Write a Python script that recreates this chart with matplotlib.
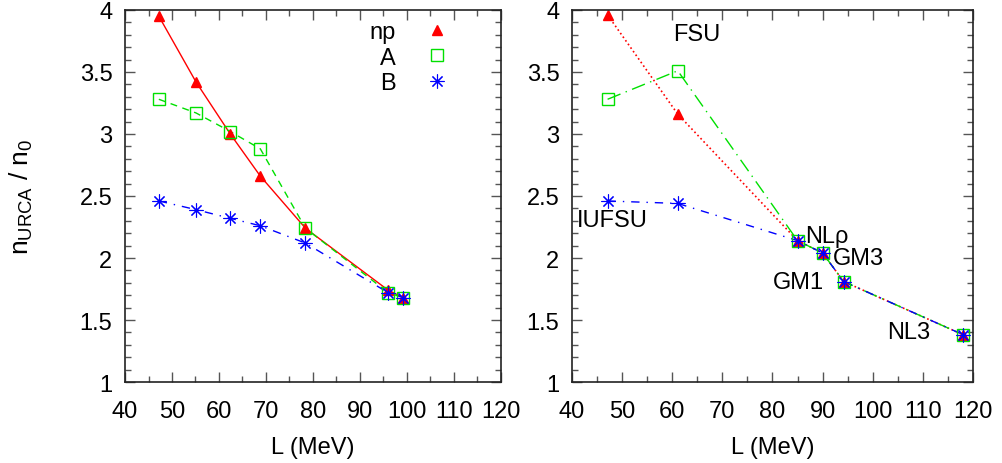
import matplotlib
matplotlib.use('Agg')
import matplotlib.pyplot as plt
from matplotlib.ticker import MultipleLocator

plt.rcParams['font.family'] = ['Liberation Sans', 'DejaVu Sans']

# left panel: L (MeV) and n_URCA/n_0 for np, A, B
L_left = [47.2, 55.1, 62.4, 68.8, 78.4, 96.0, 99.2]
np_left = [3.95, 3.42, 3.00, 2.66, 2.24, 1.74, 1.68]
A_left = [3.28, 3.17, 3.02, 2.88, 2.24, 1.72, 1.68]
B_left = [2.46, 2.39, 2.32, 2.26, 2.12, 1.72, 1.68]

# right panel: models IUFSU, FSU, NLrho, GM3, GM1, NL3
L_right = [47.1, 61.1, 85.0, 90.0, 94.2, 118.1]
np_right = [3.96, 3.16, 2.14, 2.04, 1.81, 1.38]
A_right = [3.28, 3.51, 2.14, 2.04, 1.81, 1.38]
B_right = [2.46, 2.44, 2.14, 2.04, 1.81, 1.38]

model_names = ['FSU', 'IUFSU', 'NLρ', 'GM3', 'GM1', 'NL3']
model_pos = [(60.2, 3.81), (41.0, 2.31), (86.6, 2.18), (92.0, 2.00), (80.0, 1.81), (102.8, 1.40)]

red = '#ff0000'
green = '#00e000'
blue = '#0000ff'
ast = (8, 2, 0)

fig = plt.figure(figsize=(10.03, 4.64), dpi=100)
ax1 = fig.add_axes([125 / 1003, 1 - 383 / 464, 376 / 1003, 372 / 464])
ax2 = fig.add_axes([572 / 1003, 1 - 383 / 464, 401 / 1003, 372 / 464])

ax1.plot(L_left, np_left, '-', color=red, lw=1)
ax1.plot(L_left, A_left, '--', color=green, lw=1, dashes=(5, 4))
ax1.plot(L_left, B_left, '-.', color=blue, lw=1, dashes=(6, 5, 1, 5))
ax1.plot(L_left, np_left, '^', color=red, ms=7, ls='none', label='np')
ax1.plot(L_left, A_left, 's', mfc='none', mec=green, ms=8, mew=1, ls='none', label='A')
ax1.plot(L_left, B_left, marker=ast, color=blue, ms=10, mew=0.8, ls='none', label='B')

ax2.plot(L_right, np_right, ':', color=red, lw=1.2)
ax2.plot(L_right, A_right, '-.', color=green, lw=1, dashes=(10, 4, 1, 4))
ax2.plot(L_right, B_right, '-.', color=blue, lw=1, dashes=(6, 5, 1, 5))
ax2.plot(L_right, np_right, '^', color=red, ms=7, ls='none')
ax2.plot(L_right, A_right, 's', mfc='none', mec=green, ms=8, mew=1, ls='none')
ax2.plot(L_right, B_right, marker=ast, color=blue, ms=10, mew=0.8, ls='none')

for name, (x, y) in zip(model_names, model_pos):
    ax2.text(x, y, name, fontsize=17, va='center', ha='left')

for ax in (ax1, ax2):
    ax.set_xlim(40, 120)
    ax.set_ylim(1, 4)
    ax.xaxis.set_major_locator(MultipleLocator(10))
    ax.xaxis.set_minor_locator(MultipleLocator(5))
    ax.yaxis.set_major_locator(MultipleLocator(0.5))
    ax.yaxis.set_minor_locator(MultipleLocator(0.1))
    ax.tick_params(which='both', direction='in', top=True, right=True, labelsize=17)
    ax.tick_params(axis='x', which='both', pad=13)
    ax.tick_params(axis='y', which='both', pad=9)
    ax.tick_params(which='major', length=7, width=1, color='#555555')
    ax.tick_params(which='minor', length=4, width=1, color='#555555')
    ax.set_yticks([1, 1.5, 2, 2.5, 3, 3.5, 4])
    ax.set_yticklabels(['1', '1.5', '2', '2.5', '3', '3.5', '4'])
    for s in ax.spines.values():
        s.set_linewidth(1.2)
        s.set_color('#222222')
    ax.set_xlabel('L (MeV)', fontsize=17, labelpad=10)

ax1.set_ylabel(r'$\mathregular{n_{URCA}}$ / $\mathregular{n_0}$', fontsize=19, labelpad=32)

ax1.legend(loc='upper right', frameon=False, markerfirst=False, fontsize=17,
           handlelength=1.5, handletextpad=1.0, labelspacing=0.15,
           borderaxespad=0.2, bbox_to_anchor=(0.915, 1.008))
for t in ax1.get_legend().get_texts():
    t.set_ha('right')

fig.savefig('out.png', dpi=100)
